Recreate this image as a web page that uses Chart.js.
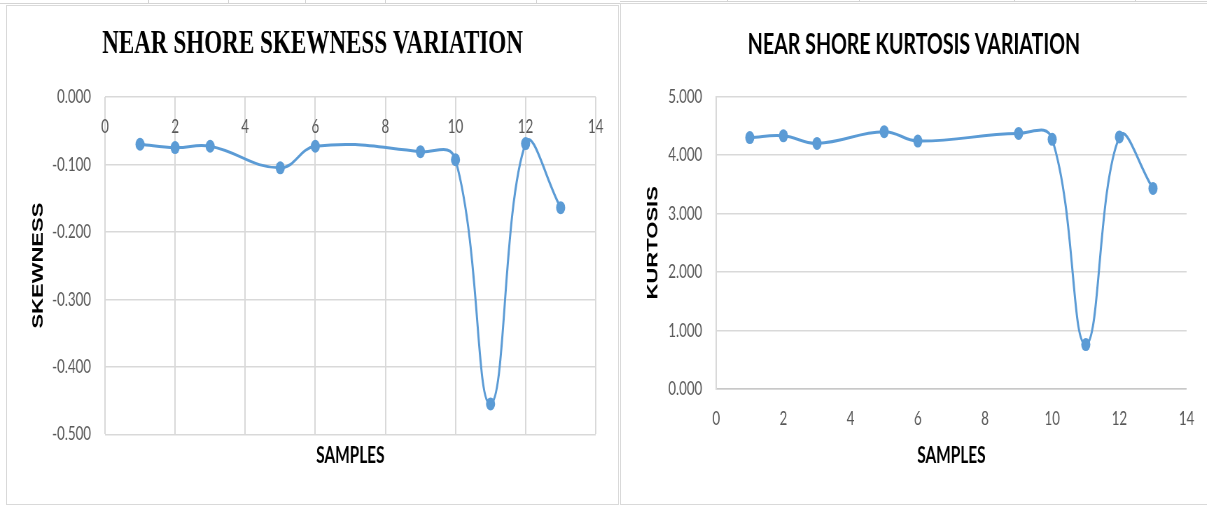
<!DOCTYPE html>
<html>
<head>
<meta charset="utf-8">
<script src="https://cdn.jsdelivr.net/npm/chart.js@4.4.1/dist/chart.umd.min.js"></script>
<style>
  html, body { margin: 0; padding: 0; background: #fff; }
  body { width: 1207px; height: 507px; position: relative; overflow: hidden; }
  .panel { position: absolute; border: 1px solid #d9d9d9; box-sizing: border-box; }
  .rule { position: absolute; background: #d4d4d4; }
  canvas { position: absolute; top: 5px; transform: scaleX(0.7); transform-origin: 0 0; }
</style>
</head>
<body>
<!-- spreadsheet cell edges peeking out above the two pasted charts -->
<div class="rule" style="left:0;top:3px;width:620px;height:1px"></div>
<div class="rule" style="left:148px;top:0;width:1px;height:4px"></div>
<div class="rule" style="left:228px;top:0;width:1px;height:4px"></div>
<div class="rule" style="left:305px;top:0;width:1px;height:4px"></div>
<div class="rule" style="left:385px;top:0;width:1px;height:4px"></div>
<div class="rule" style="left:536px;top:0;width:1px;height:4px"></div>
<div class="rule" style="left:620px;top:1px;width:587px;height:1px"></div>
<div class="rule" style="left:727px;top:0;width:1px;height:2px"></div>
<div class="rule" style="left:859px;top:0;width:1px;height:2px"></div>
<div class="rule" style="left:1014px;top:0;width:1px;height:2px"></div>
<div class="rule" style="left:1135px;top:0;width:1px;height:2px"></div>

<div class="panel" style="left:6px;top:5px;width:613px;height:500px"></div>
<div class="panel" style="left:620px;top:3px;width:600px;height:502px"></div>

<canvas id="skew" width="873" height="500" style="left:7px"></canvas>
<canvas id="kurt" width="837" height="500" style="left:621px"></canvas>

<script>
// sample numbers on the x axis (4, 7 and 8 are missing in the source)
const samples = [1, 2, 3, 5, 6, 9, 10, 11, 12, 13];
const skewness = [-0.070, -0.075, -0.073, -0.105, -0.073, -0.081, -0.093, -0.455, -0.069, -0.164];
const kurtosis = [4.30, 4.33, 4.20, 4.40, 4.24, 4.37, 4.27, 0.76, 4.31, 3.43];

const xRange = { min: 0, max: 14, step: 2 };
const skewRange = { min: -0.5, max: 0, step: 0.1 };
const kurtRange = { min: 0, max: 5, step: 1 };

const colors = {
  line: '#5b9bd5',
  grid: '#d9d9d9',
  axis: '#c8c8c8',
  ticks: '#595959',
  title: '#000000'
};

const tickFont = { family: 'Lato, "Open Sans", sans-serif', size: 19 };
const yTitleFont = { family: '"Liberation Sans", Arial, sans-serif', size: 22, weight: 'bold' };
const xTitleFont = { family: 'Lato, "Open Sans", sans-serif', size: 22, weight: 'bold' };

const toPoints = (xs, ys) => xs.map((x, i) => ({ x: x, y: ys[i] }));

const lineDataset = (label, values) => ({
  label: label,
  data: toPoints(samples, values),
  showLine: true,
  borderColor: colors.line,
  backgroundColor: colors.line,
  borderWidth: 3,
  pointRadius: 6.5,
  pointHoverRadius: 6.5,
  pointBorderWidth: 0,
  tension: 0.42,
  fill: false
});

Chart.defaults.animation = false;

// skewness: x axis crosses at 0, which is the top of the plot, so the
// tick labels sit just under the top edge; the bottom axis only carries the title
new Chart(document.getElementById('skew'), {
  type: 'scatter',
  data: { datasets: [lineDataset('Skewness', skewness)] },
  options: {
    responsive: false,
    devicePixelRatio: 1,
    layout: { padding: { left: 32, right: 32, top: 0, bottom: 36 } },
    plugins: {
      legend: { display: false },
      tooltip: { enabled: false },
      title: {
        display: true,
        text: 'NEAR SHORE SKEWNESS VARIATION',
        color: colors.title,
        font: { family: '"Liberation Serif", "Times New Roman", serif', size: 33, weight: 'bold' },
        padding: { top: 19.5, bottom: 32.9 }
      }
    },
    scales: {
      x: {
        type: 'linear',
        position: 'bottom',
        min: xRange.min,
        max: xRange.max,
        ticks: { display: false, stepSize: xRange.step },
        grid: { color: colors.grid, lineWidth: 2, drawTicks: false },
        border: { display: false },
        title: { display: true, text: 'SAMPLES', color: colors.title, font: xTitleFont, padding: 0 },
        afterFit: (scale) => { scale.height = 34.7; }
      },
      xTop: {
        type: 'linear',
        axis: 'x',
        position: { y: 0 },
        min: xRange.min,
        max: xRange.max,
        ticks: { stepSize: xRange.step, color: colors.ticks, font: tickFont, padding: 18 },
        grid: { display: false, drawTicks: false },
        border: { display: false },
        afterFit: (scale) => { scale.height = 0; }
      },
      y: {
        type: 'linear',
        position: 'left',
        min: skewRange.min,
        max: skewRange.max,
        ticks: {
          stepSize: skewRange.step,
          color: colors.ticks,
          font: tickFont,
          padding: 20,
          callback: (value) => Number(value).toFixed(3)
        },
        grid: { color: colors.grid, lineWidth: 1.5, drawTicks: false },
        border: { display: false },
        title: { display: true, text: 'SKEWNESS', color: colors.title, font: yTitleFont, padding: { top: 0, bottom: 0 } },
        afterFit: (scale) => { scale.width = 108; }
      }
    }
  }
});

new Chart(document.getElementById('kurt'), {
  type: 'scatter',
  data: { datasets: [lineDataset('Kurtosis', kurtosis)] },
  options: {
    responsive: false,
    devicePixelRatio: 1,
    layout: { padding: { left: 28, right: 28, top: 0, bottom: 36 } },
    plugins: {
      legend: { display: false },
      tooltip: { enabled: false },
      title: {
        display: true,
        text: 'NEAR SHORE KURTOSIS VARIATION',
        color: colors.title,
        font: { family: 'Lato, "Open Sans", sans-serif', size: 28, weight: 'bold' },
        padding: { top: 23, bottom: 35 }
      }
    },
    scales: {
      x: {
        type: 'linear',
        position: 'bottom',
        min: xRange.min,
        max: xRange.max,
        ticks: { stepSize: xRange.step, color: colors.ticks, font: tickFont, padding: 18 },
        grid: { display: false, drawTicks: false },
        border: { display: true, color: colors.axis, width: 1.5 },
        title: { display: true, text: 'SAMPLES', color: colors.title, font: xTitleFont, padding: 0 },
        afterFit: (scale) => { scale.height = 80; }
      },
      y: {
        type: 'linear',
        position: 'left',
        min: kurtRange.min,
        max: kurtRange.max,
        ticks: {
          stepSize: kurtRange.step,
          color: colors.ticks,
          font: tickFont,
          padding: 20,
          callback: (value) => Number(value).toFixed(3)
        },
        grid: { color: colors.grid, lineWidth: 1.5, drawTicks: false },
        border: { display: true, color: colors.grid, width: 2 },
        title: { display: true, text: 'KURTOSIS', color: colors.title, font: yTitleFont, padding: { top: 4.5, bottom: 0 } },
        afterFit: (scale) => { scale.width = 108; }
      }
    }
  }
});
</script>
</body>
</html>
